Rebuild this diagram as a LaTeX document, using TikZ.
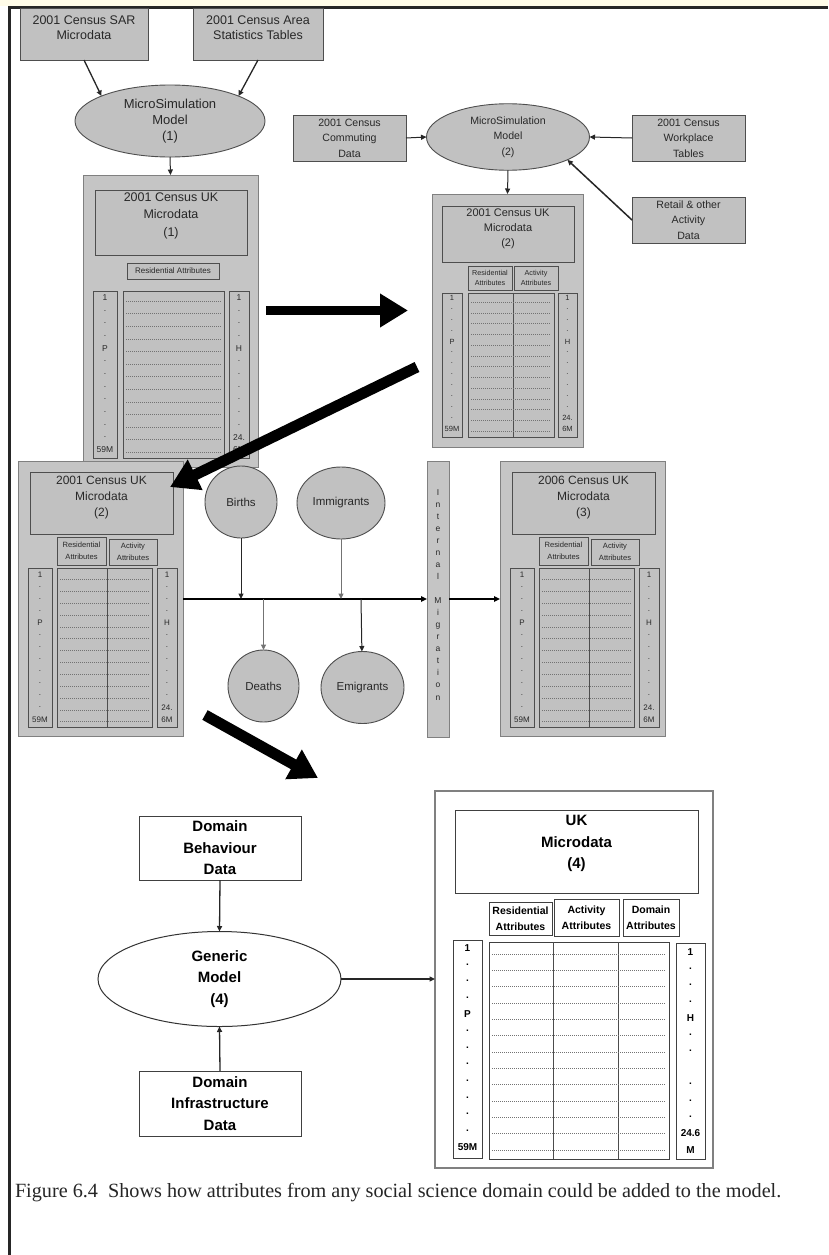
\documentclass[tikz,border=0pt]{standalone}
\usepackage{fontspec}
\setmainfont{Liberation Serif}
\setsansfont{Liberation Sans}
\usetikzlibrary{arrows.meta,shapes.geometric}

\definecolor{fillgray}{RGB}{193,193,193}
\definecolor{panelgray}{RGB}{197,197,197}
\definecolor{edgedark}{RGB}{78,78,78}
\definecolor{edgemid}{RGB}{128,128,128}
\definecolor{inkgray}{RGB}{40,40,40}
\definecolor{topstrip}{RGB}{255,252,232}

\newcommand\sz[2]{\fontsize{#1}{#2}\selectfont}

% rectangle node given by its corners: name, style, x1, y1, x2, y2, text
\newcommand\boxat[7]{%
  \node[#2, minimum width={(#5)-(#3)}, minimum height={(#6)-(#4)}] (#1)
    at ({((#3)+(#5))/2},{((#4)+(#6))/2}) {#7};}

\tikzset{
  every node/.style={inner sep=0pt, outer sep=0pt, text=inkgray},
  graybox/.style={rectangle, draw=edgedark, fill=fillgray, line width=0.9pt, align=center},
  panel/.style={rectangle, draw=edgemid, fill=panelgray, line width=1pt},
  wbox/.style={rectangle, draw=black!75, fill=white, line width=1pt, align=center},
  ukpanel/.style={rectangle, draw=black!50, fill=white, line width=1.6pt},
  model/.style={ellipse, draw=edgedark, fill=fillgray, line width=0.9pt, align=center},
  wmodel/.style={ellipse, draw=black!80, fill=white, line width=1pt, align=center},
  conn/.style={draw=black!85, line width=1pt, -{Triangle[length=5.5pt,width=5pt]}},
  bigarrow/.style={draw=black, line width=#1, -{Triangle[length=28pt,width=32pt]}},
  rowline/.style={draw=black!55, line width=0.5pt, dash pattern=on 1pt off 1pt},
  colline/.style={draw=edgedark, line width=0.9pt},
  t125/.style={font=\sffamily\sz{12.5}{15}, align=center},
  t13/.style={font=\sffamily\sz{13}{16}, align=center},
  t12/.style={font=\sffamily\sz{12}{16}, align=center},
  t11/.style={font=\sffamily\sz{11}{15}, align=center},
  t105/.style={font=\sffamily\sz{10.6}{15.5}, align=center},
  t115/.style={font=\sffamily\sz{11.5}{14}, align=center},
  t8/.style={font=\sffamily\sz{8}{9}, align=center},
  t75/.style={font=\sffamily\sz{7.6}{11.5}, align=center},
  t72/.style={font=\sffamily\sz{7.2}{10.5}, align=center},
  idx/.style={font=\sffamily\sz{8.5}{9}},
  idxs/.style={font=\sffamily\sz{8}{9}},
  letter/.style={font=\sffamily\sz{8.5}{9}, anchor=base},
  tb15/.style={font=\sffamily\bfseries\sz{15}{21.6}, align=center, text=black},
  tb105/.style={font=\sffamily\bfseries\sz{10.5}{16.5}, align=center, text=black},
  idxb/.style={font=\sffamily\bfseries\sz{10}{11}, text=black},
}

% census microdata panel with residential and activity columns
\newcommand\censusbox[3]{%
  \begin{scope}[xshift=#2]
    \boxat{#1}{panel}{18}{461}{183}{736}{}
    \boxat{#1t}{graybox}{30}{472}{173}{534}{}
    \node[t12] (#1tt) at (101.5,497.5) {#3};
    \boxat{#1r}{graybox,t75}{57}{537}{106}{565}{Residential\\Attributes}
    \boxat{#1a}{graybox,t75}{109}{539}{157}{565}{Activity\\Attributes}
    \boxat{#1p}{graybox}{28}{568}{52}{727}{}
    \boxat{#1d}{graybox}{57}{568}{152}{727}{}
    \boxat{#1h}{graybox}{157}{568}{177}{727}{}
    \draw[colline] (107,568) -- (107,727);
    \foreach \k in {0,...,12}
      \draw[rowline] (60,{579.3+\k*11.87}) -- (149,{579.3+\k*11.87});
    \foreach \t [count=\k] in {1,{.},{.},{.},P,{.},{.},{.},{.},{.},{.},{.},59M}
      \node[idxs] (#1pl\k) at (40,{575+(\k-1)*12.03}) {\t};
    \foreach \t [count=\k] in {1,{.},{.},{.},H,{.},{.},{.},{.},{.},{.},24.,6M}
      \node[idxs] (#1hl\k) at (167,{575+(\k-1)*12.03}) {\t};
  \end{scope}}

\begin{document}
\begin{tikzpicture}[x=1pt,y=-1pt]
\useasboundingbox (0,0) rectangle (828,1255);
\fill[white] (0,0) rectangle (828,1255);

% page frame
\fill[topstrip] (0,0) rectangle (828,6);
\draw[line width=2.6pt, black!85] (9.5,7.5) -- (828,7.5);
\draw[line width=2.6pt, black!85] (9.5,6.2) -- (9.5,1255);

% ---------- first microsimulation ----------
\boxat{sar}{graybox}{20}{8}{148}{60}{}
\node[t125] (sarT) at (84,27.5) {2001 Census SAR\\Microdata};
\boxat{cas}{graybox}{193}{8}{323}{60}{}
\node[t125] (casT) at (258,27.5) {2001 Census Area\\Statistics Tables};
\node[model, t13, minimum width=190, minimum height=72] (m1) at (170,121)
  {MicroSimulation\\Model\\(1)};

% microdata (1)
\boxat{mic1}{panel}{83}{175}{258}{467}{}
\boxat{mic1t}{graybox}{95}{190}{247}{255}{}
\node[t125, font=\sffamily\sz{12.5}{17.5}] (mic1tt) at (171,215.5) {2001 Census UK\\Microdata\\(1)};
\boxat{mic1r}{graybox,t8}{127}{263}{219}{279}{Residential Attributes}
\boxat{mic1p}{graybox}{93}{291}{117}{458}{}
\boxat{mic1d}{graybox}{123}{291}{224}{458}{}
\boxat{mic1h}{graybox}{229}{291}{249}{458}{}
\foreach \k in {0,...,12}
  \draw[rowline] (126,{301+\k*12.6}) -- (221,{301+\k*12.6});
\foreach \t [count=\k] in {1,{.},{.},{.},P,{.},{.},{.},{.},{.},{.},{.},59M}
  \node[idx] (mic1pl\k) at (105,{298+(\k-1)*12.67}) {\t};
\foreach \t [count=\k] in {1,{.},{.},{.},H,{.},{.},{.},{.},{.},{.},24.,6M}
  \node[idx] (mic1hl\k) at (239,{298+(\k-1)*12.67}) {\t};

\draw[conn, line width=1.3pt] (sar.south) -- (m1.160);
\draw[conn, line width=1.3pt] (cas.south) -- (m1.20);
\draw[conn] (m1.south) -- (mic1.north);

% ---------- second microsimulation ----------
\boxat{comm}{graybox,t105}{293}{115}{406}{161}{2001 Census\\Commuting\\Data}
\node[model, t105, minimum width=163, minimum height=66.5] (m2) at (508,137)
  {MicroSimulation\\Model\\(2)};
\boxat{work}{graybox,t105}{632}{115}{745}{161}{2001 Census\\Workplace\\Tables}
\boxat{retail}{graybox,t105}{632}{197}{745}{243}{Retail \& other\\Activity\\Data}

% microdata (2), residential and activity
\boxat{mic2}{panel}{432}{194}{583}{447}{}
\boxat{mic2t}{graybox}{442}{206}{574}{262}{}
\node[t11] (mic2tt) at (508,228.3) {2001 Census UK\\Microdata\\(2)};
\boxat{mic2r}{graybox,t72}{468}{266}{512}{290}{Residential\\Attributes}
\boxat{mic2a}{graybox,t72}{514}{266}{558}{290}{Activity\\Attributes}
\boxat{mic2p}{graybox}{442}{293}{462}{437}{}
\boxat{mic2d}{graybox}{468}{293}{554}{437}{}
\boxat{mic2h}{graybox}{558}{293}{577}{437}{}
\draw[colline] (513,293) -- (513,437);
\foreach \k in {0,...,12}
  \draw[rowline] (471,{302+\k*10.75}) -- (551,{302+\k*10.75});
\foreach \t [count=\k] in {1,{.},{.},{.},P,{.},{.},{.},{.},{.},{.},{.},59M}
  \node[idxs, font=\sffamily\sz{7.5}{8}] (mic2pl\k) at (452,{298+(\k-1)*10.9}) {\t};
\foreach \t [count=\k] in {1,{.},{.},{.},H,{.},{.},{.},{.},{.},{.},24.,6M}
  \node[idxs, font=\sffamily\sz{7.5}{8}] (mic2hl\k) at (567.5,{298+(\k-1)*10.9}) {\t};

\draw[conn] (comm.east) -- (m2.west);
\draw[conn] (work.west) -- (m2.east);
\draw[conn, line width=1.5pt] (retail.west) -- (m2.-21);
\draw[conn] (m2.south) -- (mic2.north);

% ---------- population change 2001 to 2006 ----------
\censusbox{mic3}{0}{2001 Census UK\\Microdata\\(2)}
\censusbox{mic4}{482}{2006 Census UK\\Microdata\\(3)}

\node[model, t115, minimum width=72, minimum height=72] (births) at (241,502) {Births};
\node[model, t115, minimum width=88, minimum height=72] (immig) at (341,503) {Immigrants};
\node[model, t115, minimum width=71, minimum height=72] (deaths) at (263.5,686) {Deaths};
\node[model, t115, minimum width=83, minimum height=72] (emig) at (362.5,687.5) {Emigrants};

\boxat{im}{panel}{427}{461}{449}{737}{}
\foreach \t [count=\k] in {I,n,t,e,r,n,a,l,{},M,i,g,r,a,t,i,o,n}
  \node[letter] (iml\k) at (438,{495+(\k-1)*12.06}) {\t};

\coordinate (hl) at (183,599);
\coordinate (jb) at (241,599);
\coordinate (ji) at (341,599);
\coordinate (jd) at (263.5,599);
\coordinate (je) at (361,599);
\draw[line width=1.6pt, black, -{Triangle[length=6pt,width=5.5pt]}] (mic3.east |- hl) -- (im.west |- hl);
\draw[line width=1.6pt, black, -{Triangle[length=6pt,width=5.5pt]}] (im.east |- hl) -- (mic4.west |- hl);
\draw[conn] (births) -- (jb);
\draw[conn, draw=black!55] (immig) -- (ji);
\draw[conn, draw=black!55] (jd) -- (deaths);
\draw[conn] (je) -- (emig);

% ---------- generic domain model ----------
\boxat{beh}{wbox,tb15}{139}{816}{301}{880}{Domain\\Behaviour\\Data}
\node[wmodel, tb15, minimum width=243, minimum height=95] (gen) at (219.5,979) {Generic\\Model\\(4)};
\boxat{inf}{wbox,tb15}{139}{1071}{301}{1136}{Domain\\Infrastructure\\Data}

\boxat{uk}{ukpanel}{435}{791}{713}{1168}{}
\boxat{ukt}{wbox}{455}{810}{698}{893}{}
\node[tb15] (ukT) at (576.5,843.5) {UK\\Microdata\\(4)};
\boxat{ukr}{wbox,tb105}{489}{902}{552}{935}{Residential\\Attributes}
\boxat{uka}{wbox,tb105}{554}{899}{619}{936}{Activity\\Attributes}
\boxat{ukd}{wbox,tb105}{623}{899}{679}{936}{Domain\\Attributes}
\boxat{ukp}{wbox}{453}{940}{482}{1158}{}
\boxat{ukdd}{wbox}{489}{942}{669}{1159}{}
\boxat{ukh}{wbox}{676}{943}{705}{1159}{}
\draw[colline, draw=black!70] (553,942) -- (553,1159);
\draw[colline, draw=black!70] (618,942) -- (618,1159);
\foreach \k in {0,...,12}
  \draw[rowline] (492,{954+\k*16.33}) -- (666,{954+\k*16.33});
\foreach \t [count=\k] in {1,{.},{.},{.},P,{.},{.},{.},{.},{.},{.},{.},59M}
  \node[idxb] (ukpl\k) at (467.5,{948+(\k-1)*16.6}) {\t};
\foreach \t [count=\k] in {1,{.},{.},{.},H,{.},{.},{},{.},{.},{.},24.6,M}
  \node[idxb] (ukhl\k) at (690.5,{952+(\k-1)*16.5}) {\t};

\draw[conn, line width=1.3pt] (beh.south) -- (gen.north);
\draw[conn, line width=1.3pt] (inf.north) -- (gen.south);
\draw[conn, line width=1.3pt] (gen.east) -- (uk.west |- gen.east);

% ---------- flow between stages ----------
\coordinate (a1s) at (266,310.5);
\coordinate (a1e) at (408,310.5);
\coordinate (a2s) at (417,367);
\coordinate (a2e) at (170,487);
\coordinate (a3s) at (205,715);
\coordinate (a3e) at (318,778);
\draw[bigarrow=9pt] (a1s) -- (a1e);
\draw[bigarrow=11pt] (a2s) -- (a2e);
\draw[bigarrow=11pt] (a3s) -- (a3e);

% caption
\node[font=\rmfamily\sz{20.2}{23}, anchor=west, text=black!85] (cap) at (15,1193)
  {Figure 6.4\ \ Shows how attributes from any social science domain could be added to the model.};
\end{tikzpicture}
\end{document}
